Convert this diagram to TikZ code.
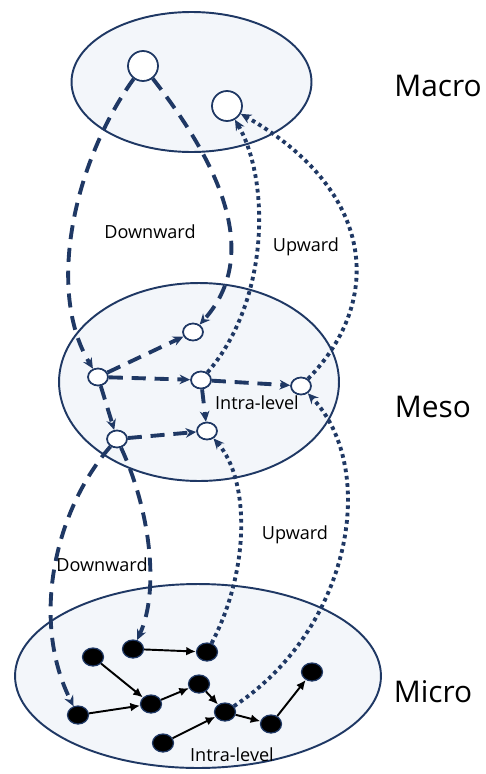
\documentclass[tikz,border=0pt]{standalone}
\usepackage{fontspec}
\setmainfont{Open Sans}
\usetikzlibrary{arrows.meta,shapes.geometric}
\definecolor{navy}{HTML}{1F3864}
\definecolor{layerfill}{HTML}{F3F6FA}
\begin{document}
\begin{tikzpicture}[x=0.02cm,y=-0.02cm,
  layer/.style={ellipse,draw=navy,line width=1.1pt,fill=layerfill,inner sep=0pt},
  macronode/.style={circle,draw=navy,line width=1pt,fill=white,minimum size=0.6cm,inner sep=0pt},
  mesonode/.style={ellipse,draw=navy,line width=1pt,fill=white,minimum width=0.4cm,minimum height=0.34cm,inner sep=0pt},
  micronode/.style={ellipse,draw=navy,line width=0.7pt,fill=black,minimum width=0.42cm,minimum height=0.36cm,inner sep=0pt},
  downlink/.style={draw=navy,line width=2.2pt,dash pattern=on 8pt off 5pt,-{Stealth[length=6pt,width=5.5pt]}},
  uplink/.style={draw=navy,line width=2.2pt,dash pattern=on 2.1pt off 2.1pt,-{Stealth[length=6pt,width=5.5pt]}},
  intralink/.style={draw=black,line width=1.1pt,-{Latex[length=5.5pt,width=5pt]}},
  tag/.style={font=\fontsize{10.3}{12}\selectfont},
  levelname/.style={font=\fontsize{17}{20}\selectfont}]
\useasboundingbox (0,0) rectangle (486,774);
\node[layer,minimum width=4.8cm,minimum height=2.8cm] (macro) at (191.5,82) {};
\node[layer,minimum width=5.6cm,minimum height=3.96cm] (meso) at (199,382) {};
\node[layer,minimum width=7.32cm,minimum height=3.68cm] (micro) at (198,676) {};
\node[levelname] (macrolabel) at (438,86) {Macro};
\node[levelname] (mesolabel) at (433,407) {Meso};
\node[levelname] (microlabel) at (433,692) {Micro};
% macro
\node[macronode] (ma1) at (143,66) {};
\node[macronode] (ma2) at (227,106) {};
% meso
\node[mesonode] (me1) at (193,332) {};
\node[mesonode] (me2) at (98,377) {};
\node[mesonode] (me3) at (201,380) {};
\node[mesonode] (me4) at (301,386) {};
\node[mesonode] (me5) at (117,439) {};
\node[mesonode] (me6) at (207,431) {};
% micro
\node[micronode] (mi1) at (133,649) {};
\node[micronode] (mi2) at (207,652) {};
\node[micronode] (mi3) at (93,657) {};
\node[micronode] (mi4) at (151,704) {};
\node[micronode] (mi5) at (199,684) {};
\node[micronode] (mi6) at (225,712) {};
\node[micronode] (mi7) at (271,724) {};
\node[micronode] (mi8) at (312,672) {};
\node[micronode] (mi9) at (78,715) {};
\node[micronode] (mi10) at (163,743) {};
% labels
\node[tag] (down1) at (150,232) {Downward};
\node[tag] (up1) at (306,247) {Upward};
\node[tag] (down2) at (102,565) {Downward};
\node[tag] (up2) at (295,535) {Upward};
\node[tag] (intra1) at (257,403) {Intra-level};
\node[tag] (intra2) at (232,755) {Intra-level};
% macro -> meso
\draw[downlink] (ma1) .. controls (75,160) and (45,290) .. (me2);
\draw[downlink] (ma1) .. controls (220,165) and (262,255) .. (me1);
% meso -> macro
\draw[uplink] (me3) .. controls (270,300) and (270,180) .. (ma2);
\draw[uplink] (me4) .. controls (385,300) and (375,190) .. (ma2);
% inside meso
\draw[downlink] (me2) -- (me1);
\draw[downlink] (me2) -- (me3);
\draw[downlink] (me3) -- (me4);
\draw[downlink] (me2) -- (me5);
\draw[downlink] (me3) -- (me6);
\draw[downlink] (me5) -- (me6);
% meso -> micro
\draw[downlink] (me5) .. controls (55,510) and (30,620) .. (mi9);
\draw[downlink] (me5) .. controls (150,510) and (160,590) .. (mi1);
% micro -> meso
\draw[uplink] (mi2) .. controls (250,570) and (250,480) .. (me6);
\draw[uplink] (mi6) .. controls (350,630) and (380,470) .. (me4);
% inside micro
\draw[intralink] (mi1) -- (mi2);
\draw[intralink] (mi3) -- (mi4);
\draw[intralink] (mi9) -- (mi4);
\draw[intralink] (mi4) -- (mi5);
\draw[intralink] (mi5) -- (mi6);
\draw[intralink] (mi10) -- (mi6);
\draw[intralink] (mi6) -- (mi7);
\draw[intralink] (mi7) -- (mi8);
\end{tikzpicture}
\end{document}
